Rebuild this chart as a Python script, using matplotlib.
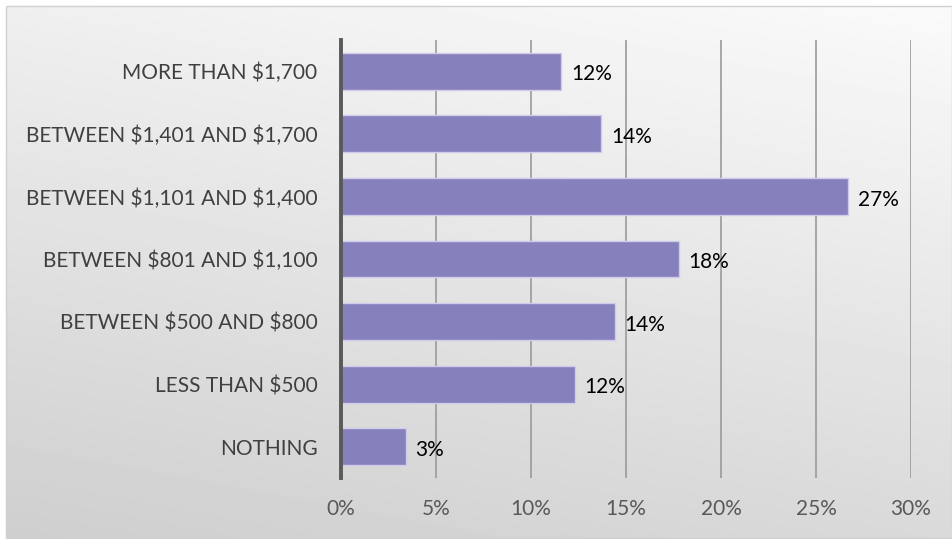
#!/usr/bin/env python3
"""Monthly spending brackets - horizontal bar chart with share of respondents."""

import numpy as np
import matplotlib
matplotlib.use('Agg')
import matplotlib.pyplot as plt
from matplotlib.patches import Rectangle

plt.rcParams['text.parse_math'] = False

# --- DATA ---
categories = [
    'NOTHING',
    'LESS THAN $500',
    'BETWEEN $500 AND $800',
    'BETWEEN $801 AND $1,100',
    'BETWEEN $1,101 AND $1,400',
    'BETWEEN $1,401 AND $1,700',
    'MORE THAN $1,700',
]
shares = [3.4, 12.3, 14.4, 17.8, 26.7, 13.7, 11.6]
x_ticks = [0, 5, 10, 15, 20, 25, 30]

W, H = 952, 539
fig = plt.figure(figsize=(W / 100, H / 100), dpi=100)
fig.patch.set_facecolor('white')

# Soft diagonal gradient panel behind the chart
bg = fig.add_axes([0, 0, 1, 1], zorder=0)
bg.set_xlim(0, W)
bg.set_ylim(H, 0)
bg.axis('off')
xx, yy = np.meshgrid(np.linspace(0, 1, 200), np.linspace(0, 1, 120))
shade = 0.98 - 0.17 * (0.75 * yy + 0.25 * (1 - xx))
bg.imshow(shade, cmap='gray', vmin=0, vmax=1, extent=[6, W, 538, 6],
          aspect='auto', interpolation='bilinear')
bg.add_patch(Rectangle((6, 6), W - 6.5, 532, fill=False,
                       edgecolor='#d0d0d0', linewidth=1))

ax = fig.add_axes([341 / W, (H - 478) / H, (911 - 341) / W, (478 - 40) / H], zorder=1)
ax.set_facecolor('none')

y = np.arange(len(categories))
bars = ax.barh(y, shares, height=0.59, color='#8680bd',
               edgecolor='#cfcbea', linewidth=1, zorder=3)

for b, v in zip(bars, shares):
    ax.text(b.get_width() + 0.5, b.get_y() + b.get_height() / 2 - 0.05, f'{v:.0f}%',
            va='center', ha='left', fontsize=15, color='black',
            family='Lato', zorder=4)

ax.set_xlim(0, 30)
ax.set_ylim(-0.5, len(categories) - 0.5)
ax.set_yticks(y)
ax.set_yticklabels(categories, family='Lato', fontsize=15, color='#404040')
ax.set_xticks(x_ticks)
ax.set_xticklabels([f'{t}%' for t in x_ticks], family='Lato', fontsize=15,
                   color='#595959')
ax.tick_params(axis='both', length=0)
ax.tick_params(axis='y', pad=17)
ax.tick_params(axis='x', pad=15)

ax.grid(axis='x', color='#9a9a9a', linewidth=1.2, zorder=1)
ax.set_axisbelow(True)
for side in ['top', 'right', 'bottom']:
    ax.spines[side].set_visible(False)
ax.spines['left'].set_color('#595959')
ax.spines['left'].set_linewidth(2.8)
ax.spines['left'].set_zorder(5)

plt.savefig('out.png', dpi=100)
